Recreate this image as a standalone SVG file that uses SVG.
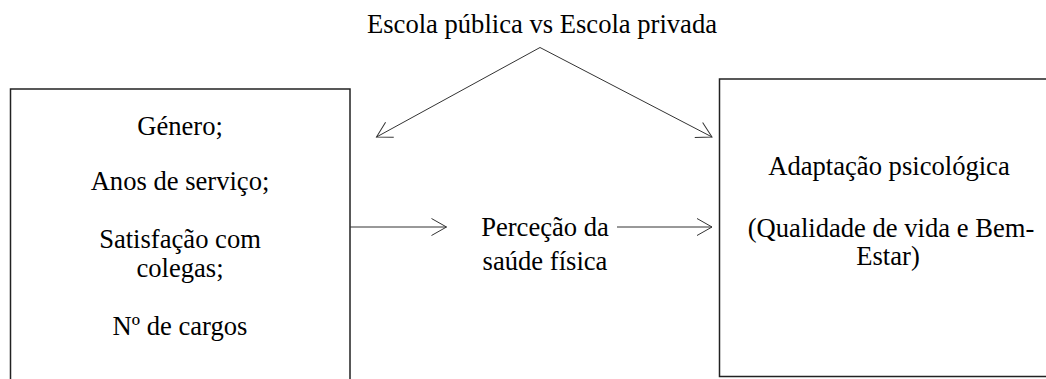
<svg xmlns="http://www.w3.org/2000/svg" width="1046" height="379" viewBox="0 0 1046 379">
<style>
text{font-family:"Liberation Serif","Times New Roman",Times,"DejaVu Serif",serif;font-size:26.6px;fill:#000;text-anchor:middle}
.box{fill:#fff;stroke:#222;stroke-width:1.5}
.ln{fill:none;stroke:#333;stroke-width:1}
</style>
<defs>
<marker id="ah" viewBox="0 0 20 20" refX="18" refY="10" markerWidth="20" markerHeight="20" markerUnits="userSpaceOnUse" orient="auto">
<path d="M3,1.5 L18,10 L3,18.5" fill="none" stroke="#333" stroke-width="1"/>
</marker>
</defs>
<rect width="1046" height="379" fill="#fff"/>
<g id="node-left">
<rect class="box" x="10.5" y="89" width="339.5" height="320"/>
<text x="180" y="135" font-family="Liberation Serif, serif">Género;</text>
<text x="180" y="190" font-family="Liberation Serif, serif">Anos de serviço;</text>
<text x="180" y="248" font-family="Liberation Serif, serif">Satisfação com</text>
<text x="180" y="277" font-family="Liberation Serif, serif">colegas;</text>
<text x="180" y="335" font-family="Liberation Serif, serif">Nº de cargos</text>
</g>
<g id="node-right">
<rect class="box" x="719.5" y="79" width="360" height="297.5"/>
<text x="889" y="175" font-family="Liberation Serif, serif">Adaptação psicológica</text>
<text x="891" y="237" font-family="Liberation Serif, serif">(Qualidade de vida e Bem-</text>
<text x="888" y="265" font-family="Liberation Serif, serif">Estar)</text>
</g>
<g id="node-top">
<text x="542" y="33" font-family="Liberation Serif, serif">Escola pública vs Escola privada</text>
</g>
<g id="node-mid">
<text x="545" y="236" font-family="Liberation Serif, serif">Perceção da</text>
<text x="545" y="270" font-family="Liberation Serif, serif">saúde física</text>
</g>
<g id="connectors">
<path class="ln" d="M540,47.5 L376.5,137" marker-end="url(#ah)"/>
<path class="ln" d="M540,47.5 L712,137" marker-end="url(#ah)"/>
<path class="ln" d="M350,227 L446.5,227" marker-end="url(#ah)"/>
<path class="ln" d="M617,227 L712,227" marker-end="url(#ah)"/>
</g>
</svg>
